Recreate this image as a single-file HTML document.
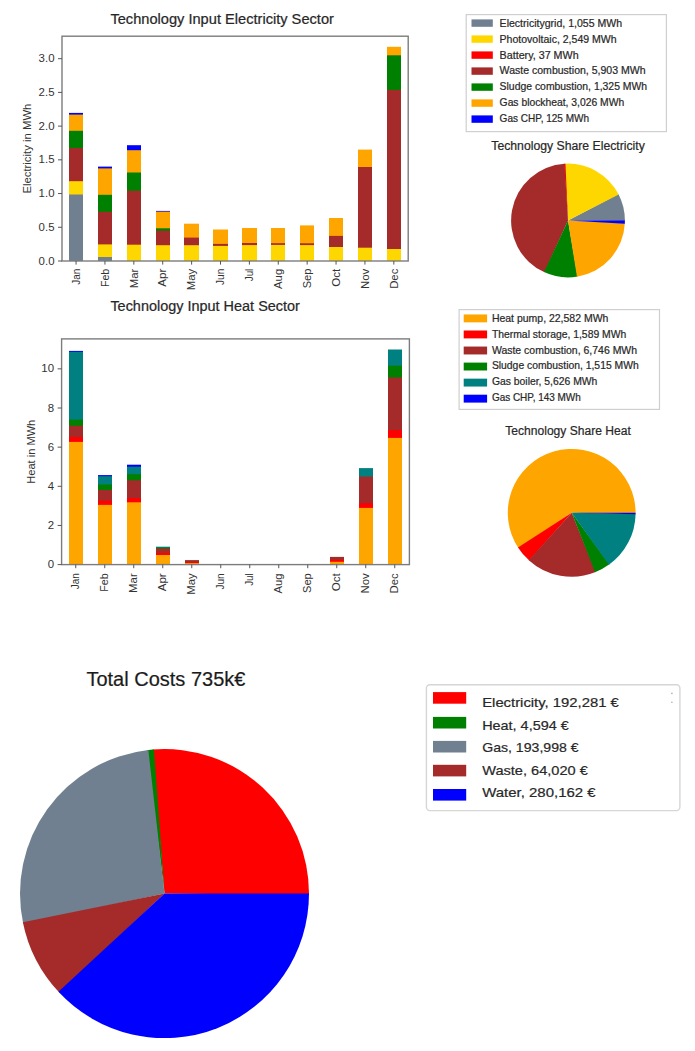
<!DOCTYPE html>
<html><head><meta charset="utf-8"><title>Energy dashboard</title>
<style>html,body{margin:0;padding:0;background:#fff;}svg{display:block;}
text{font-family:"Liberation Sans", sans-serif;}text.c{stroke:#303030;stroke-width:0.22px;}</style></head>
<body>
<svg width="695" height="1051" viewBox="0 0 695 1051" font-family='"Liberation Sans", sans-serif'>
<rect width="695" height="1051" fill="#fff"/>
<rect x="69" y="112.90" width="14" height="148.10" fill="#0000FF"/>
<rect x="69" y="114.60" width="14" height="146.40" fill="#FFA500"/>
<rect x="69" y="130.80" width="14" height="130.20" fill="#008000"/>
<rect x="69" y="148.00" width="14" height="113.00" fill="#A52A2A"/>
<rect x="69" y="181.20" width="14" height="79.80" fill="#FFD700"/>
<rect x="69" y="194.50" width="14" height="66.50" fill="#708090"/>
<rect x="98" y="166.60" width="14" height="94.40" fill="#0000FF"/>
<rect x="98" y="168.40" width="14" height="92.60" fill="#FFA500"/>
<rect x="98" y="194.80" width="14" height="66.20" fill="#008000"/>
<rect x="98" y="211.80" width="14" height="49.20" fill="#A52A2A"/>
<rect x="98" y="244.40" width="14" height="16.60" fill="#FFD700"/>
<rect x="98" y="257.00" width="14" height="4.00" fill="#708090"/>
<rect x="127" y="145.20" width="14" height="115.80" fill="#0000FF"/>
<rect x="127" y="150.20" width="14" height="110.80" fill="#FFA500"/>
<rect x="127" y="172.50" width="14" height="88.50" fill="#008000"/>
<rect x="127" y="190.70" width="14" height="70.30" fill="#A52A2A"/>
<rect x="127" y="244.70" width="14" height="16.30" fill="#FFD700"/>
<rect x="156" y="210.90" width="14" height="50.10" fill="#0000FF"/>
<rect x="156" y="211.60" width="14" height="49.40" fill="#FFA500"/>
<rect x="156" y="228.30" width="14" height="32.70" fill="#008000"/>
<rect x="156" y="230.70" width="14" height="30.30" fill="#A52A2A"/>
<rect x="156" y="245.20" width="14" height="15.80" fill="#FFD700"/>
<rect x="184" y="223.70" width="15" height="37.30" fill="#FFA500"/>
<rect x="184" y="237.60" width="15" height="23.40" fill="#A52A2A"/>
<rect x="184" y="245.20" width="15" height="15.80" fill="#FFD700"/>
<rect x="213" y="229.50" width="15" height="31.50" fill="#FFA500"/>
<rect x="213" y="243.90" width="15" height="17.10" fill="#A52A2A"/>
<rect x="213" y="245.90" width="15" height="15.10" fill="#FFD700"/>
<rect x="242" y="228.00" width="15" height="33.00" fill="#FFA500"/>
<rect x="242" y="243.00" width="15" height="18.00" fill="#A52A2A"/>
<rect x="242" y="245.10" width="15" height="15.90" fill="#FFD700"/>
<rect x="271" y="228.00" width="14" height="33.00" fill="#FFA500"/>
<rect x="271" y="243.20" width="14" height="17.80" fill="#A52A2A"/>
<rect x="271" y="244.90" width="14" height="16.10" fill="#FFD700"/>
<rect x="300" y="225.40" width="14" height="35.60" fill="#FFA500"/>
<rect x="300" y="243.30" width="14" height="17.70" fill="#A52A2A"/>
<rect x="300" y="245.10" width="14" height="15.90" fill="#FFD700"/>
<rect x="329" y="218.00" width="14" height="43.00" fill="#FFA500"/>
<rect x="329" y="235.90" width="14" height="25.10" fill="#A52A2A"/>
<rect x="329" y="247.00" width="14" height="14.00" fill="#FFD700"/>
<rect x="358" y="149.60" width="14" height="111.40" fill="#FFA500"/>
<rect x="358" y="167.00" width="14" height="94.00" fill="#A52A2A"/>
<rect x="358" y="247.70" width="14" height="13.30" fill="#FFD700"/>
<rect x="387" y="46.80" width="14" height="214.20" fill="#FFA500"/>
<rect x="387" y="55.30" width="14" height="205.70" fill="#008000"/>
<rect x="387" y="89.90" width="14" height="171.10" fill="#A52A2A"/>
<rect x="387" y="249.00" width="14" height="12.00" fill="#FFD700"/>
<rect x="62" y="36.2" width="346.2" height="224.8" fill="none" stroke="#7c7c7c" stroke-width="1.4"/>
<line x1="58" y1="261.00" x2="62" y2="261.00" stroke="#555" stroke-width="1"/>
<text x="54.5" y="264.60" font-size="10" fill="#333" text-anchor="end" textLength="15.9" lengthAdjust="spacingAndGlyphs">0.0</text>
<line x1="58" y1="227.28" x2="62" y2="227.28" stroke="#555" stroke-width="1"/>
<text x="54.5" y="230.88" font-size="10" fill="#333" text-anchor="end" textLength="15.9" lengthAdjust="spacingAndGlyphs">0.5</text>
<line x1="58" y1="193.56" x2="62" y2="193.56" stroke="#555" stroke-width="1"/>
<text x="54.5" y="197.16" font-size="10" fill="#333" text-anchor="end" textLength="15.9" lengthAdjust="spacingAndGlyphs">1.0</text>
<line x1="58" y1="159.84" x2="62" y2="159.84" stroke="#555" stroke-width="1"/>
<text x="54.5" y="163.44" font-size="10" fill="#333" text-anchor="end" textLength="15.9" lengthAdjust="spacingAndGlyphs">1.5</text>
<line x1="58" y1="126.12" x2="62" y2="126.12" stroke="#555" stroke-width="1"/>
<text x="54.5" y="129.72" font-size="10" fill="#333" text-anchor="end" textLength="15.9" lengthAdjust="spacingAndGlyphs">2.0</text>
<line x1="58" y1="92.40" x2="62" y2="92.40" stroke="#555" stroke-width="1"/>
<text x="54.5" y="96.00" font-size="10" fill="#333" text-anchor="end" textLength="15.9" lengthAdjust="spacingAndGlyphs">2.5</text>
<line x1="58" y1="58.68" x2="62" y2="58.68" stroke="#555" stroke-width="1"/>
<text x="54.5" y="62.28" font-size="10" fill="#333" text-anchor="end" textLength="15.9" lengthAdjust="spacingAndGlyphs">3.0</text>
<line x1="76.05" y1="261.0" x2="76.05" y2="264.6" stroke="#555" stroke-width="1"/>
<text transform="translate(79.75,268.70) rotate(-90)" font-size="10" fill="#333" text-anchor="end" textLength="16.04" lengthAdjust="spacingAndGlyphs">Jan</text>
<line x1="104.94" y1="261.0" x2="104.94" y2="264.6" stroke="#555" stroke-width="1"/>
<text transform="translate(108.64,268.70) rotate(-90)" font-size="10" fill="#333" text-anchor="end" textLength="18.42" lengthAdjust="spacingAndGlyphs">Feb</text>
<line x1="133.83" y1="261.0" x2="133.83" y2="264.6" stroke="#555" stroke-width="1"/>
<text transform="translate(137.53,268.70) rotate(-90)" font-size="10" fill="#333" text-anchor="end" textLength="19.62" lengthAdjust="spacingAndGlyphs">Mar</text>
<line x1="162.72" y1="261.0" x2="162.72" y2="264.6" stroke="#555" stroke-width="1"/>
<text transform="translate(166.42,268.70) rotate(-90)" font-size="10" fill="#333" text-anchor="end" textLength="17.99" lengthAdjust="spacingAndGlyphs">Apr</text>
<line x1="191.61" y1="261.0" x2="191.61" y2="264.6" stroke="#555" stroke-width="1"/>
<text transform="translate(195.31,268.70) rotate(-90)" font-size="10" fill="#333" text-anchor="end" textLength="21.50" lengthAdjust="spacingAndGlyphs">May</text>
<line x1="220.50" y1="261.0" x2="220.50" y2="264.6" stroke="#555" stroke-width="1"/>
<text transform="translate(224.20,268.70) rotate(-90)" font-size="10" fill="#333" text-anchor="end" textLength="16.24" lengthAdjust="spacingAndGlyphs">Jun</text>
<line x1="249.39" y1="261.0" x2="249.39" y2="264.6" stroke="#555" stroke-width="1"/>
<text transform="translate(253.09,268.70) rotate(-90)" font-size="10" fill="#333" text-anchor="end" textLength="12.55" lengthAdjust="spacingAndGlyphs">Jul</text>
<line x1="278.28" y1="261.0" x2="278.28" y2="264.6" stroke="#555" stroke-width="1"/>
<text transform="translate(281.98,268.70) rotate(-90)" font-size="10" fill="#333" text-anchor="end" textLength="20.31" lengthAdjust="spacingAndGlyphs">Aug</text>
<line x1="307.17" y1="261.0" x2="307.17" y2="264.6" stroke="#555" stroke-width="1"/>
<text transform="translate(310.87,268.70) rotate(-90)" font-size="10" fill="#333" text-anchor="end" textLength="19.60" lengthAdjust="spacingAndGlyphs">Sep</text>
<line x1="336.06" y1="261.0" x2="336.06" y2="264.6" stroke="#555" stroke-width="1"/>
<text transform="translate(339.76,268.70) rotate(-90)" font-size="10" fill="#333" text-anchor="end" textLength="17.98" lengthAdjust="spacingAndGlyphs">Oct</text>
<line x1="364.95" y1="261.0" x2="364.95" y2="264.6" stroke="#555" stroke-width="1"/>
<text transform="translate(368.65,268.70) rotate(-90)" font-size="10" fill="#333" text-anchor="end" textLength="20.30" lengthAdjust="spacingAndGlyphs">Nov</text>
<line x1="393.84" y1="261.0" x2="393.84" y2="264.6" stroke="#555" stroke-width="1"/>
<text transform="translate(397.54,268.70) rotate(-90)" font-size="10" fill="#333" text-anchor="end" textLength="20.12" lengthAdjust="spacingAndGlyphs">Dec</text>
<text transform="translate(31.20,148.60) rotate(-90)" font-size="10" fill="#333" text-anchor="middle" textLength="90.0" lengthAdjust="spacingAndGlyphs">Electricity in MWh</text>
<text class="c" x="110.4" y="23.6" font-size="14" fill="#262626" text-anchor="start" textLength="223.5" lengthAdjust="spacingAndGlyphs">Technology Input Electricity Sector</text>
<rect x="69" y="350.90" width="14" height="213.70" fill="#0000FF"/>
<rect x="69" y="351.80" width="14" height="212.80" fill="#008080"/>
<rect x="69" y="419.60" width="14" height="145.00" fill="#008000"/>
<rect x="69" y="425.80" width="14" height="138.80" fill="#A52A2A"/>
<rect x="69" y="437.00" width="14" height="127.60" fill="#FF0000"/>
<rect x="69" y="441.90" width="14" height="122.70" fill="#FFA500"/>
<rect x="98" y="475.10" width="14" height="89.50" fill="#0000FF"/>
<rect x="98" y="476.20" width="14" height="88.40" fill="#008080"/>
<rect x="98" y="484.50" width="14" height="80.10" fill="#008000"/>
<rect x="98" y="490.00" width="14" height="74.60" fill="#A52A2A"/>
<rect x="98" y="500.60" width="14" height="64.00" fill="#FF0000"/>
<rect x="98" y="504.90" width="14" height="59.70" fill="#FFA500"/>
<rect x="127" y="464.70" width="14" height="99.90" fill="#0000FF"/>
<rect x="127" y="466.70" width="14" height="97.90" fill="#008080"/>
<rect x="127" y="474.20" width="14" height="90.40" fill="#008000"/>
<rect x="127" y="480.30" width="14" height="84.30" fill="#A52A2A"/>
<rect x="127" y="498.00" width="14" height="66.60" fill="#FF0000"/>
<rect x="127" y="502.30" width="14" height="62.30" fill="#FFA500"/>
<rect x="156" y="546.70" width="14" height="17.90" fill="#008080"/>
<rect x="156" y="547.60" width="14" height="17.00" fill="#008000"/>
<rect x="156" y="548.50" width="14" height="16.10" fill="#A52A2A"/>
<rect x="156" y="553.00" width="14" height="11.60" fill="#FF0000"/>
<rect x="156" y="555.00" width="14" height="9.60" fill="#FFA500"/>
<rect x="185" y="560.10" width="14" height="4.50" fill="#A52A2A"/>
<rect x="185" y="562.30" width="14" height="2.30" fill="#FF0000"/>
<rect x="185" y="563.10" width="14" height="1.50" fill="#FFA500"/>
<rect x="214" y="564.00" width="14" height="0.60" fill="#A52A2A"/>
<rect x="243" y="564.00" width="14" height="0.60" fill="#A52A2A"/>
<rect x="301" y="564.00" width="14" height="0.60" fill="#A52A2A"/>
<rect x="330" y="556.90" width="14" height="7.70" fill="#A52A2A"/>
<rect x="330" y="560.00" width="14" height="4.60" fill="#FF0000"/>
<rect x="330" y="561.80" width="14" height="2.80" fill="#FFA500"/>
<rect x="359" y="468.10" width="14" height="96.50" fill="#008080"/>
<rect x="359" y="476.60" width="14" height="88.00" fill="#A52A2A"/>
<rect x="359" y="503.20" width="14" height="61.40" fill="#FF0000"/>
<rect x="359" y="507.90" width="14" height="56.70" fill="#FFA500"/>
<rect x="388" y="349.50" width="14" height="215.10" fill="#008080"/>
<rect x="388" y="365.70" width="14" height="198.90" fill="#008000"/>
<rect x="388" y="377.50" width="14" height="187.10" fill="#A52A2A"/>
<rect x="388" y="430.10" width="14" height="134.50" fill="#FF0000"/>
<rect x="388" y="437.90" width="14" height="126.70" fill="#FFA500"/>
<rect x="61.6" y="338.9" width="347.79999999999995" height="225.70000000000005" fill="none" stroke="#7c7c7c" stroke-width="1.4"/>
<line x1="57.6" y1="564.60" x2="61.6" y2="564.60" stroke="#555" stroke-width="1"/>
<text x="54.1" y="568.20" font-size="10" fill="#333" text-anchor="end" textLength="6.36" lengthAdjust="spacingAndGlyphs">0</text>
<line x1="57.6" y1="525.45" x2="61.6" y2="525.45" stroke="#555" stroke-width="1"/>
<text x="54.1" y="529.05" font-size="10" fill="#333" text-anchor="end" textLength="6.36" lengthAdjust="spacingAndGlyphs">2</text>
<line x1="57.6" y1="486.30" x2="61.6" y2="486.30" stroke="#555" stroke-width="1"/>
<text x="54.1" y="489.90" font-size="10" fill="#333" text-anchor="end" textLength="6.36" lengthAdjust="spacingAndGlyphs">4</text>
<line x1="57.6" y1="447.15" x2="61.6" y2="447.15" stroke="#555" stroke-width="1"/>
<text x="54.1" y="450.75" font-size="10" fill="#333" text-anchor="end" textLength="6.36" lengthAdjust="spacingAndGlyphs">6</text>
<line x1="57.6" y1="408.00" x2="61.6" y2="408.00" stroke="#555" stroke-width="1"/>
<text x="54.1" y="411.60" font-size="10" fill="#333" text-anchor="end" textLength="6.36" lengthAdjust="spacingAndGlyphs">8</text>
<line x1="57.6" y1="368.85" x2="61.6" y2="368.85" stroke="#555" stroke-width="1"/>
<text x="54.1" y="372.45" font-size="10" fill="#333" text-anchor="end" textLength="12.72" lengthAdjust="spacingAndGlyphs">10</text>
<line x1="75.75" y1="564.6" x2="75.75" y2="568.2" stroke="#555" stroke-width="1"/>
<text transform="translate(79.45,573.30) rotate(-90)" font-size="10" fill="#333" text-anchor="end" textLength="16.04" lengthAdjust="spacingAndGlyphs">Jan</text>
<line x1="104.75" y1="564.6" x2="104.75" y2="568.2" stroke="#555" stroke-width="1"/>
<text transform="translate(108.45,573.30) rotate(-90)" font-size="10" fill="#333" text-anchor="end" textLength="18.42" lengthAdjust="spacingAndGlyphs">Feb</text>
<line x1="133.75" y1="564.6" x2="133.75" y2="568.2" stroke="#555" stroke-width="1"/>
<text transform="translate(137.45,573.30) rotate(-90)" font-size="10" fill="#333" text-anchor="end" textLength="19.62" lengthAdjust="spacingAndGlyphs">Mar</text>
<line x1="162.75" y1="564.6" x2="162.75" y2="568.2" stroke="#555" stroke-width="1"/>
<text transform="translate(166.45,573.30) rotate(-90)" font-size="10" fill="#333" text-anchor="end" textLength="17.99" lengthAdjust="spacingAndGlyphs">Apr</text>
<line x1="191.75" y1="564.6" x2="191.75" y2="568.2" stroke="#555" stroke-width="1"/>
<text transform="translate(195.45,573.30) rotate(-90)" font-size="10" fill="#333" text-anchor="end" textLength="21.50" lengthAdjust="spacingAndGlyphs">May</text>
<line x1="220.75" y1="564.6" x2="220.75" y2="568.2" stroke="#555" stroke-width="1"/>
<text transform="translate(224.45,573.30) rotate(-90)" font-size="10" fill="#333" text-anchor="end" textLength="16.24" lengthAdjust="spacingAndGlyphs">Jun</text>
<line x1="249.75" y1="564.6" x2="249.75" y2="568.2" stroke="#555" stroke-width="1"/>
<text transform="translate(253.45,573.30) rotate(-90)" font-size="10" fill="#333" text-anchor="end" textLength="12.55" lengthAdjust="spacingAndGlyphs">Jul</text>
<line x1="278.75" y1="564.6" x2="278.75" y2="568.2" stroke="#555" stroke-width="1"/>
<text transform="translate(282.45,573.30) rotate(-90)" font-size="10" fill="#333" text-anchor="end" textLength="20.31" lengthAdjust="spacingAndGlyphs">Aug</text>
<line x1="307.75" y1="564.6" x2="307.75" y2="568.2" stroke="#555" stroke-width="1"/>
<text transform="translate(311.45,573.30) rotate(-90)" font-size="10" fill="#333" text-anchor="end" textLength="19.60" lengthAdjust="spacingAndGlyphs">Sep</text>
<line x1="336.75" y1="564.6" x2="336.75" y2="568.2" stroke="#555" stroke-width="1"/>
<text transform="translate(340.45,573.30) rotate(-90)" font-size="10" fill="#333" text-anchor="end" textLength="17.98" lengthAdjust="spacingAndGlyphs">Oct</text>
<line x1="365.75" y1="564.6" x2="365.75" y2="568.2" stroke="#555" stroke-width="1"/>
<text transform="translate(369.45,573.30) rotate(-90)" font-size="10" fill="#333" text-anchor="end" textLength="20.30" lengthAdjust="spacingAndGlyphs">Nov</text>
<line x1="394.75" y1="564.6" x2="394.75" y2="568.2" stroke="#555" stroke-width="1"/>
<text transform="translate(398.45,573.30) rotate(-90)" font-size="10" fill="#333" text-anchor="end" textLength="20.12" lengthAdjust="spacingAndGlyphs">Dec</text>
<text transform="translate(34.60,451.75) rotate(-90)" font-size="10" fill="#333" text-anchor="middle" textLength="64.05" lengthAdjust="spacingAndGlyphs">Heat in MWh</text>
<text class="c" x="110.4" y="311.4" font-size="14" fill="#262626" text-anchor="start" textLength="189.5" lengthAdjust="spacingAndGlyphs">Technology Input Heat Sector</text>
<rect x="466.2" y="14.6" width="200.2" height="117.0" rx="0" fill="#fff" stroke="#cfcfcf" stroke-width="1.2"/>
<rect x="471.5" y="19.40" width="21.30" height="7.4" fill="#708090"/>
<text class="c" x="499.6" y="26.70" font-size="10.2" fill="#262626" text-anchor="start" textLength="122.5" lengthAdjust="spacingAndGlyphs">Electricitygrid, 1,055 MWh</text>
<rect x="471.5" y="35.40" width="21.30" height="7.4" fill="#FFD700"/>
<text class="c" x="499.6" y="42.62" font-size="10.2" fill="#262626" text-anchor="start" textLength="117" lengthAdjust="spacingAndGlyphs">Photovoltaic, 2,549 MWh</text>
<rect x="471.5" y="51.40" width="21.30" height="7.4" fill="#FF0000"/>
<text class="c" x="499.6" y="58.54" font-size="10.2" fill="#262626" text-anchor="start" textLength="79" lengthAdjust="spacingAndGlyphs">Battery, 37 MWh</text>
<rect x="471.5" y="67.40" width="21.30" height="7.4" fill="#A52A2A"/>
<text class="c" x="499.6" y="74.46" font-size="10.2" fill="#262626" text-anchor="start" textLength="146" lengthAdjust="spacingAndGlyphs">Waste combustion, 5,903 MWh</text>
<rect x="471.5" y="83.40" width="21.30" height="7.4" fill="#008000"/>
<text class="c" x="499.6" y="90.38" font-size="10.2" fill="#262626" text-anchor="start" textLength="147.5" lengthAdjust="spacingAndGlyphs">Sludge combustion, 1,325 MWh</text>
<rect x="471.5" y="99.40" width="21.30" height="7.4" fill="#FFA500"/>
<text class="c" x="499.6" y="106.30" font-size="10.2" fill="#262626" text-anchor="start" textLength="124.6" lengthAdjust="spacingAndGlyphs">Gas blockheat, 3,026 MWh</text>
<rect x="471.5" y="115.40" width="21.30" height="7.4" fill="#0000FF"/>
<text class="c" x="499.6" y="122.22" font-size="10.2" fill="#262626" text-anchor="start" textLength="89.5" lengthAdjust="spacingAndGlyphs">Gas CHP, 125 MWh</text>
<rect x="459.1" y="309.6" width="200.39999999999998" height="99.79999999999995" rx="0" fill="#fff" stroke="#cfcfcf" stroke-width="1.2"/>
<rect x="463.7" y="314.45" width="23.40" height="7.9" fill="#FFA500"/>
<text class="c" x="491.9" y="321.60" font-size="10.2" fill="#262626" text-anchor="start" textLength="116.5" lengthAdjust="spacingAndGlyphs">Heat pump, 22,582 MWh</text>
<rect x="463.7" y="330.50" width="23.40" height="7.9" fill="#FF0000"/>
<text class="c" x="491.9" y="337.56" font-size="10.2" fill="#262626" text-anchor="start" textLength="134.4" lengthAdjust="spacingAndGlyphs">Thermal storage, 1,589 MWh</text>
<rect x="463.7" y="346.55" width="23.40" height="7.9" fill="#A52A2A"/>
<text class="c" x="491.9" y="353.52" font-size="10.2" fill="#262626" text-anchor="start" textLength="145.2" lengthAdjust="spacingAndGlyphs">Waste combustion, 6,746 MWh</text>
<rect x="463.7" y="362.60" width="23.40" height="7.9" fill="#008000"/>
<text class="c" x="491.9" y="369.48" font-size="10.2" fill="#262626" text-anchor="start" textLength="146.8" lengthAdjust="spacingAndGlyphs">Sludge combustion, 1,515 MWh</text>
<rect x="463.7" y="378.65" width="23.40" height="7.9" fill="#008080"/>
<text class="c" x="491.9" y="385.44" font-size="10.2" fill="#262626" text-anchor="start" textLength="105.5" lengthAdjust="spacingAndGlyphs">Gas boiler, 5,626 MWh</text>
<rect x="463.7" y="394.70" width="23.40" height="7.9" fill="#0000FF"/>
<text class="c" x="491.9" y="401.40" font-size="10.2" fill="#262626" text-anchor="start" textLength="88.9" lengthAdjust="spacingAndGlyphs">Gas CHP, 143 MWh</text>
<text class="c" x="491.3" y="150.3" font-size="12.3" fill="#262626" text-anchor="start" textLength="153.5" lengthAdjust="spacingAndGlyphs">Technology Share Electricity</text>
<path d="M568.00,220.50 L624.90,221.10 A56.9,56.9 0 0 0 618.38,194.06 Z" fill="#708090"/>
<path d="M568.00,220.50 L618.66,194.59 A56.9,56.9 0 0 0 564.88,163.69 Z" fill="#FFD700"/>
<path d="M568.00,220.50 L565.48,163.66 A56.9,56.9 0 0 0 563.94,163.75 Z" fill="#FF0000"/>
<path d="M568.00,220.50 L564.53,163.71 A56.9,56.9 0 0 0 544.56,272.35 Z" fill="#A52A2A"/>
<path d="M568.00,220.50 L544.01,272.10 A56.9,56.9 0 0 0 577.58,276.59 Z" fill="#008000"/>
<path d="M568.00,220.50 L576.99,276.69 A56.9,56.9 0 0 0 624.84,223.09 Z" fill="#FFA500"/>
<path d="M568.00,220.50 L624.81,223.69 A56.9,56.9 0 0 0 624.90,220.50 Z" fill="#0000FF"/>
<text class="c" x="505.3" y="435.3" font-size="12.3" fill="#262626" text-anchor="start" textLength="125.5" lengthAdjust="spacingAndGlyphs">Technology Share Heat</text>
<path d="M571.70,512.80 L635.60,513.47 A63.9,63.9 0 1 0 518.36,547.98 Z" fill="#FFA500"/>
<path d="M571.70,512.80 L517.99,547.42 A63.9,63.9 0 0 0 529.26,560.57 Z" fill="#FF0000"/>
<path d="M571.70,512.80 L528.76,560.13 A63.9,63.9 0 0 0 595.59,572.07 Z" fill="#A52A2A"/>
<path d="M571.70,512.80 L594.97,572.31 A63.9,63.9 0 0 0 609.47,564.34 Z" fill="#008000"/>
<path d="M571.70,512.80 L608.93,564.74 A63.9,63.9 0 0 0 635.59,513.63 Z" fill="#008080"/>
<path d="M571.70,512.80 L635.58,514.30 A63.9,63.9 0 0 0 635.60,512.80 Z" fill="#0000FF"/>
<text class="c" x="86.4" y="685.6" font-size="19.6" fill="#1a1a1a" text-anchor="start" textLength="159.0" lengthAdjust="spacingAndGlyphs">Total Costs 735k€</text>
<path d="M164.50,893.60 L308.99,895.11 A144.5,144.5 0 0 0 152.48,749.60 Z" fill="#FF0000"/>
<path d="M164.50,893.60 L153.99,749.48 A144.5,144.5 0 0 0 146.84,750.18 Z" fill="#008000"/>
<path d="M164.50,893.60 L148.34,750.01 A144.5,144.5 0 0 0 23.18,923.73 Z" fill="#708090"/>
<path d="M164.50,893.60 L22.87,922.24 A144.5,144.5 0 0 0 59.49,992.86 Z" fill="#A52A2A"/>
<path d="M164.50,893.60 L58.46,991.76 A144.5,144.5 0 0 0 309.00,893.60 Z" fill="#0000FF"/>
<rect x="426.4" y="684.7" width="253.5" height="125.9" rx="3.5" fill="#fff" stroke="#d6d6d6" stroke-width="1.4"/>
<rect x="433.0" y="692.1" width="33.2" height="11.6" fill="#FF0000"/>
<text class="c" x="482.2" y="707.2" font-size="13.6" fill="#262626" text-anchor="start" textLength="136.6" lengthAdjust="spacingAndGlyphs">Electricity, 192,281 €</text>
<rect x="433.0" y="716.9" width="33.2" height="11.6" fill="#008000"/>
<text class="c" x="482.2" y="729.7" font-size="13.6" fill="#262626" text-anchor="start" textLength="86.5" lengthAdjust="spacingAndGlyphs">Heat, 4,594 €</text>
<rect x="433.0" y="740.9" width="33.2" height="11.6" fill="#708090"/>
<text class="c" x="482.2" y="751.7" font-size="13.6" fill="#262626" text-anchor="start" textLength="96.4" lengthAdjust="spacingAndGlyphs">Gas, 193,998 €</text>
<rect x="433.0" y="764.8" width="33.2" height="11.6" fill="#A52A2A"/>
<text class="c" x="482.2" y="775.1" font-size="13.6" fill="#262626" text-anchor="start" textLength="105.7" lengthAdjust="spacingAndGlyphs">Waste, 64,020 €</text>
<rect x="433.0" y="789.0" width="33.2" height="11.6" fill="#0000FF"/>
<text class="c" x="482.2" y="797.4" font-size="13.6" fill="#262626" text-anchor="start" textLength="113.4" lengthAdjust="spacingAndGlyphs">Water, 280,162 €</text>
<circle cx="671.9" cy="693.4" r="0.8" fill="#aaa"/>
<circle cx="671.9" cy="702.2" r="0.8" fill="#aaa"/>
</svg>
</body></html>
